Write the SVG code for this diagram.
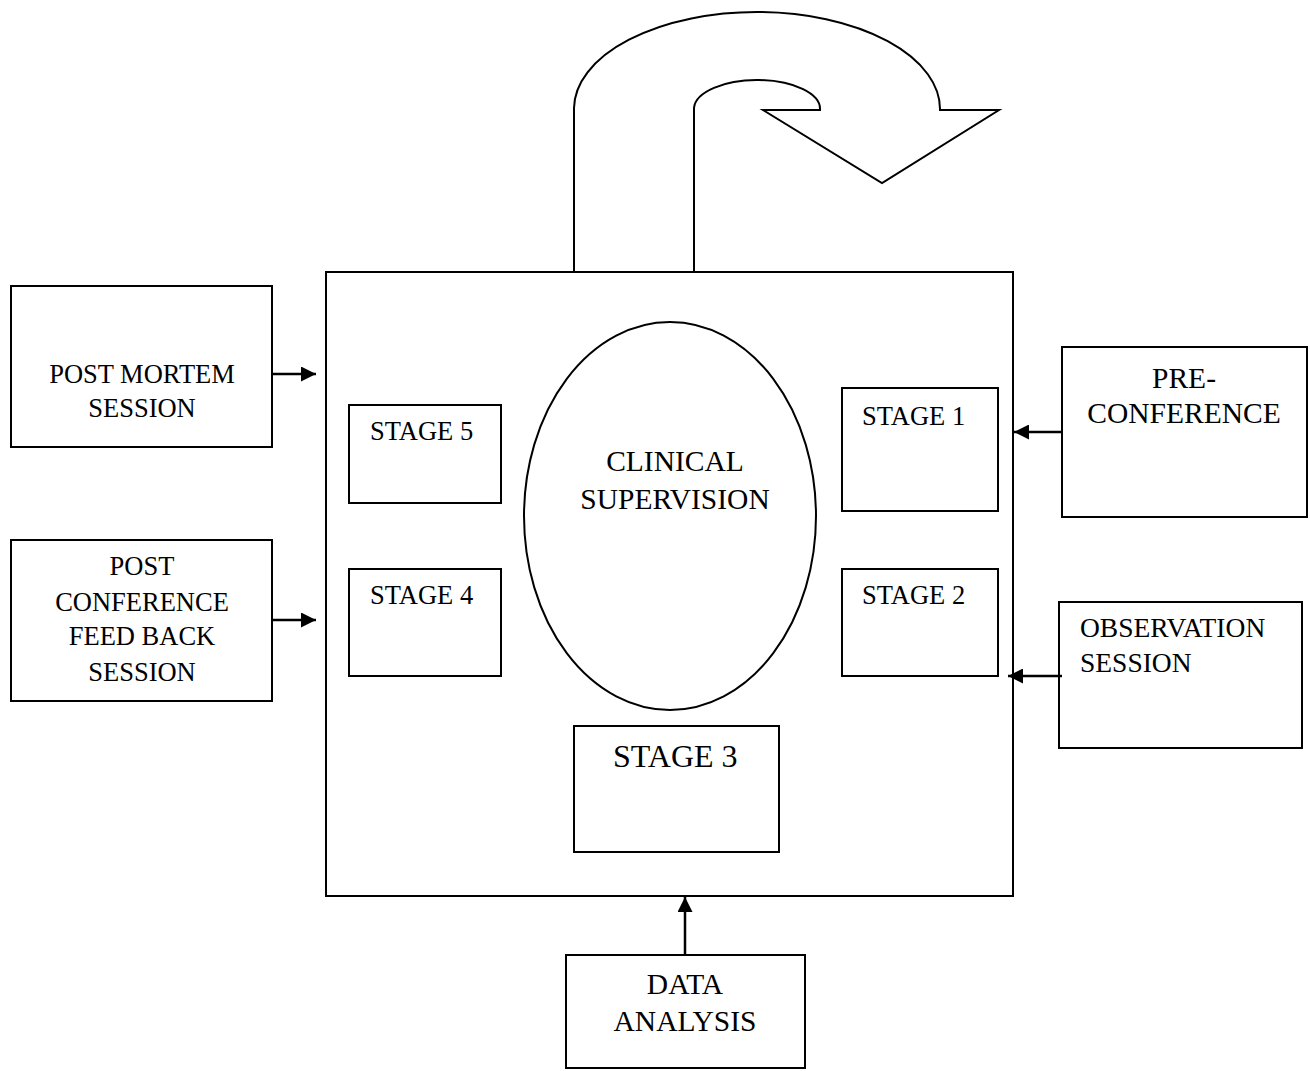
<svg xmlns="http://www.w3.org/2000/svg" width="1310" height="1071" viewBox="0 0 1310 1071">
<style>
.b{fill:#fff;stroke:#000;stroke-width:2}
.t{font-family:"Liberation Serif","Times New Roman",serif;font-size:26.5px;fill:#000}
.c{text-anchor:middle}
.lg{font-size:29.5px}
.l{stroke:#000;stroke-width:2.5;fill:none}
</style>
<defs>
<marker id="ah" viewBox="0 0 10 10" refX="10" refY="5" markerWidth="15" markerHeight="15" markerUnits="userSpaceOnUse" orient="auto"><path d="M0,0L10,5L0,10Z" fill="#000"/></marker>
</defs>
<rect width="1310" height="1071" fill="#fff"/>
<g id="curved-arrow">
<path class="b" d="M574,272 V108 A183,97 0 0 1 940,110 H999 L882,183 L763,110 H820 A63,29 0 0 0 694,108 V272"/>
</g>
<g id="main"><rect class="b" x="326" y="272" width="687" height="624"/></g>
<g id="ellipse"><ellipse class="b" cx="670" cy="516" rx="146" ry="194"/>
<text class="t c lg" x="675" y="471">CLINICAL</text><text class="t c lg" x="675" y="509">SUPERVISION</text></g>
<g id="stage5"><rect class="b" x="349" y="405" width="152" height="98"/><text class="t" x="370" y="440">STAGE 5</text></g>
<g id="stage4"><rect class="b" x="349" y="569" width="152" height="107"/><text class="t" x="370" y="604">STAGE 4</text></g>
<g id="stage1"><rect class="b" x="842" y="388" width="156" height="123"/><text class="t" x="862" y="425">STAGE 1</text></g>
<g id="stage2"><rect class="b" x="842" y="569" width="156" height="107"/><text class="t" x="862" y="604">STAGE 2</text></g>
<g id="stage3"><rect class="b" x="574" y="726" width="205" height="126"/><text class="t" x="613" y="767" style="font-size:32px">STAGE 3</text></g>
<g id="postmortem"><rect class="b" x="11" y="286" width="261" height="161"/>
<text class="t c" x="142" y="383">POST MORTEM</text><text class="t c" x="142" y="417">SESSION</text></g>
<g id="postconf"><rect class="b" x="11" y="540" width="261" height="161"/>
<text class="t c" x="142" y="575">POST</text><text class="t c" x="142" y="611">CONFERENCE</text><text class="t c" x="142" y="645">FEED BACK</text><text class="t c" x="142" y="681">SESSION</text></g>
<g id="preconf"><rect class="b" x="1062" y="347" width="245" height="170"/>
<text class="t c lg" x="1184" y="388">PRE-</text><text class="t c lg" x="1184" y="423">CONFERENCE</text></g>
<g id="observation"><rect class="b" x="1059" y="602" width="243" height="146"/>
<text class="t" x="1080" y="637" style="font-size:27.5px">OBSERVATION</text><text class="t" x="1080" y="672" style="font-size:27.5px">SESSION</text></g>
<g id="data"><rect class="b" x="566" y="955" width="239" height="113"/>
<text class="t c lg" x="685" y="994">DATA</text><text class="t c lg" x="685" y="1031">ANALYSIS</text></g>
<g id="connectors">
<line class="l" x1="272" y1="374" x2="316" y2="374" marker-end="url(#ah)"/>
<line class="l" x1="272" y1="620" x2="316" y2="620" marker-end="url(#ah)"/>
<line class="l" x1="1062" y1="432" x2="1014" y2="432" marker-end="url(#ah)"/>
<line class="l" x1="1062" y1="676" x2="1008" y2="676" marker-end="url(#ah)"/>
<line class="l" x1="685" y1="955" x2="685" y2="897" marker-end="url(#ah)"/>
</g>
</svg>
